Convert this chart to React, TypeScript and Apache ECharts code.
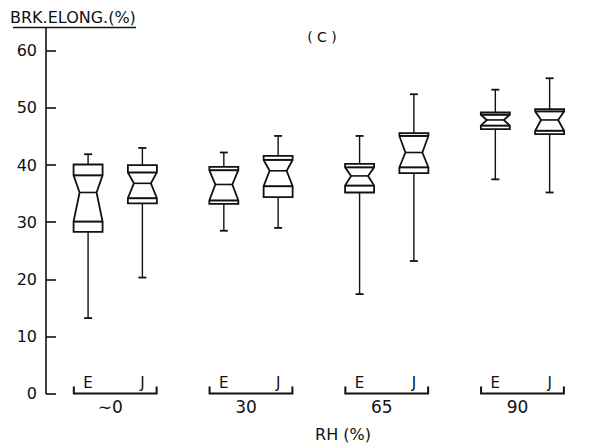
import React, { useEffect, useRef } from "react";
import * as echarts from "echarts";

// RH groups and the two samples in each group
const groupLabels = ["∼0", "30", "65", "90"];
const sampleLabels = ["E", "J"];
const yTicks = [0, 10, 20, 30, 40, 50, 60];

// each box: [lowWhisker, q1, notchLow, median, notchHigh, q3, highWhisker]
const eBoxes = [
  [13.2, 28.3, 30.1, 35.2, 38.2, 40.1, 41.9],
  [28.5, 33.2, 33.8, 36.6, 39.1, 39.7, 42.2],
  [17.4, 35.2, 36.4, 38.1, 39.6, 40.2, 45.1],
  [37.5, 46.3, 46.9, 47.9, 48.8, 49.2, 53.2],
];
const jBoxes = [
  [20.3, 33.3, 34.2, 36.8, 38.7, 40.0, 43.0],
  [29.0, 34.4, 36.3, 39.0, 40.9, 41.6, 45.1],
  [23.2, 38.6, 39.6, 42.2, 45.1, 45.6, 52.4],
  [35.2, 45.4, 46.0, 47.9, 49.4, 49.8, 55.2],
];

const INK = "#111";
const FONT = "DejaVu Sans";
const OFFSET = 0.2;

function renderBox(params: any, api: any) {
  const x = api.value(0);
  const wl = api.value(1), q1 = api.value(2), nl = api.value(3), med = api.value(4);
  const nh = api.value(5), q3 = api.value(6), wh = api.value(7);
  const cx = api.coord([x, med])[0];
  const y = (v: number) => api.coord([x, v])[1];
  const hw = 14.5, nw = 8.5, cap = 4;
  const lw = 1.8;
  const st = { stroke: INK, lineWidth: lw, fill: "#fff" };
  const ln = (x1: number, y1: number, x2: number, y2: number, w = lw) => ({
    type: "line",
    shape: { x1, y1, x2, y2 },
    style: { stroke: INK, lineWidth: w },
  });
  return {
    type: "group",
    children: [
      ln(cx, y(q3), cx, y(wh), 1.4),
      ln(cx, y(q1), cx, y(wl), 1.4),
      ln(cx - cap, y(wh), cx + cap, y(wh), 1.8),
      ln(cx - cap, y(wl), cx + cap, y(wl), 1.8),
      {
        type: "polygon",
        shape: {
          points: [
            [cx - hw, y(q3)],
            [cx + hw, y(q3)],
            [cx + hw, y(nh)],
            [cx + nw, y(med)],
            [cx + hw, y(nl)],
            [cx + hw, y(q1)],
            [cx - hw, y(q1)],
            [cx - hw, y(nl)],
            [cx - nw, y(med)],
            [cx - hw, y(nh)],
          ],
        },
        style: st,
      },
      ln(cx - hw, y(nh), cx + hw, y(nh), 2),
      ln(cx - nw, y(med), cx + nw, y(med), 1.6),
      ln(cx - hw, y(nl), cx + hw, y(nl), 2),
    ],
  };
}

function renderBracket(params: any, api: any) {
  const g = api.value(0);
  const y0 = api.coord([g, 0])[1];
  const xl = api.coord([g - 0.305, 0])[0];
  const xr = api.coord([g + 0.305, 0])[0];
  const xc = api.coord([g, 0])[0];
  const xe = api.coord([g - OFFSET, 0])[0];
  const xj = api.coord([g + OFFSET, 0])[0];
  const txt = (x: number, yy: number, text: string, size: number) => ({
    type: "text",
    style: {
      x,
      y: yy,
      text,
      fill: INK,
      fontSize: size,
      fontFamily: FONT,
      align: "center",
      verticalAlign: "middle",
    },
  });
  return {
    type: "group",
    children: [
      {
        type: "polyline",
        shape: { points: [[xl, y0 - 7], [xl, y0], [xr, y0], [xr, y0 - 7]] },
        style: { stroke: INK, lineWidth: 2, fill: "none" },
      },
      txt(xe, y0 - 11, sampleLabels[0], 15),
      txt(xj, y0 - 11, sampleLabels[1], 15),
      txt(xc - 5, y0 + 13, groupLabels[g], 17),
    ],
  };
}

export default function App() {
  const ref = useRef<HTMLDivElement>(null);
  useEffect(() => {
    document.body.style.margin = "0";
    const chart = echarts.init(ref.current!, null, { renderer: "svg" });
    chart.setOption({
      animation: false,
      backgroundColor: "#fff",
      grid: { left: 46, top: 28, right: -28, bottom: 50.5, containLabel: false },
      xAxis: { type: "value", min: -0.51, max: 3.49, show: false },
      yAxis: {
        type: "value",
        min: 0,
        max: 64,
        interval: 10,
        splitLine: { show: false },
        axisLine: { show: true, onZero: false, lineStyle: { color: INK, width: 1.6 } },
        axisTick: {
          show: true,
          inside: true,
          length: 10,
          customValues: yTicks,
          lineStyle: { color: INK, width: 1.6 },
        },
        axisLabel: {
          customValues: yTicks,
          color: INK,
          fontSize: 16,
          fontFamily: FONT,
          margin: 9,
        },
      },
      graphic: [
        {
          type: "text",
          style: { x: 10, y: 17, text: "BRK.ELONG.(%)", fill: INK, fontSize: 16, fontFamily: FONT, verticalAlign: "middle" },
        },
        { type: "line", shape: { x1: 13, y1: 27.5, x2: 136, y2: 27.5 }, style: { stroke: INK, lineWidth: 1.6 } },
        {
          type: "text",
          style: { x: 322, y: 37, text: "( C )", fill: INK, fontSize: 14, fontFamily: FONT, align: "center", verticalAlign: "middle" },
        },
        {
          type: "text",
          style: { x: 343, y: 434, text: "RH (%)", fill: INK, fontSize: 16, fontFamily: FONT, align: "center", verticalAlign: "middle" },
        },
      ],
      series: [
        {
          type: "custom",
          name: sampleLabels[0],
          clip: false,
          renderItem: renderBox,
          data: eBoxes.map((b, g) => [g - OFFSET, ...b]),
        },
        {
          type: "custom",
          name: sampleLabels[1],
          clip: false,
          renderItem: renderBox,
          data: jBoxes.map((b, g) => [g + OFFSET, ...b]),
        },
        {
          type: "custom",
          name: "groups",
          clip: false,
          renderItem: renderBracket,
          data: groupLabels.map((_, g) => [g]),
        },
      ],
    });
    return () => chart.dispose();
  }, []);
  return <div ref={ref} style={{ width: 589, height: 444 }} />;
}
